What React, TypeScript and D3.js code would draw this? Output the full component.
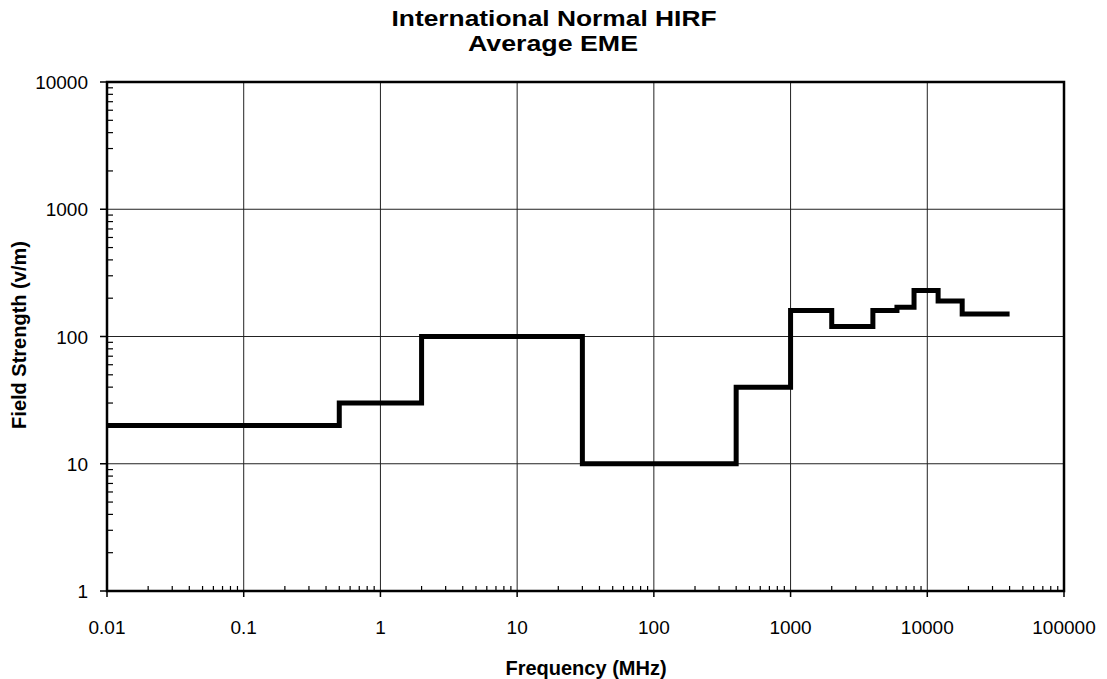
import React from "react";
import * as d3 from "d3";

const freqEdges = [0.01, 0.5, 2, 30, 400, 1000, 2000, 4000, 6000, 8000, 12000, 18000, 40000];
const fieldLevels = [20, 30, 100, 10, 40, 160, 120, 160, 170, 230, 190, 150];
const xTickValues = [0.01, 0.1, 1, 10, 100, 1000, 10000, 100000];
const xTickLabels = ["0.01", "0.1", "1", "10", "100", "1000", "10000", "100000"];
const yTickValues = [1, 10, 100, 1000, 10000];
const yTickLabels = ["1", "10", "100", "1000", "10000"];
const titleLines = ["International Normal HIRF", "Average EME"];
const xTitle = "Frequency (MHz)";
const yTitle = "Field Strength (v/m)";

const W = 1107;
const H = 679;
const M = { left: 107, right: 1064, top: 82, bottom: 591 };
const FONT = "'Liberation Sans', Arial, Helvetica, sans-serif";

export default function App() {
  const x = d3.scaleLog().domain([0.01, 100000]).range([M.left, M.right]);
  const y = d3.scaleLog().domain([1, 10000]).range([M.bottom, M.top]);

  const pts: [number, number][] = [];
  fieldLevels.forEach((v, i) => {
    pts.push([freqEdges[i], v]);
    pts.push([freqEdges[i + 1], v]);
  });
  const line = d3
    .line<[number, number]>()
    .x((d) => x(d[0]))
    .y((d) => y(d[1]));

  const xMinor: number[] = [];
  for (let e = -2; e < 5; e++) for (let k = 2; k <= 9; k++) xMinor.push(k * Math.pow(10, e));
  const yMinor: number[] = [];
  for (let e = 0; e < 4; e++) for (let k = 2; k <= 9; k++) yMinor.push(k * Math.pow(10, e));

  return (
    <svg width={W} height={H} style={{ position: "absolute", left: 0, top: 0, background: "#fff" }}>
      <rect x={0} y={0} width={W} height={H} fill="#fff" />
      {/* title */}
      <g fontFamily={FONT} fontWeight="bold" fontSize={22} textAnchor="middle" fill="#000">
        <text x={554} y={26} textLength={325} lengthAdjust="spacingAndGlyphs">{titleLines[0]}</text>
        <text x={553} y={51} textLength={170} lengthAdjust="spacingAndGlyphs">{titleLines[1]}</text>
      </g>
      {/* grid */}
      <g stroke="#222" strokeWidth={1}>
        {xTickValues.map((v) => (
          <line key={"gx" + v} x1={x(v)} x2={x(v)} y1={M.top} y2={M.bottom} />
        ))}
        {yTickValues.map((v) => (
          <line key={"gy" + v} x1={M.left} x2={M.right} y1={y(v)} y2={y(v)} />
        ))}
      </g>
      {/* minor ticks */}
      <g stroke="#000" strokeWidth={1.2}>
        {xMinor.map((v, i) => (
          <line key={"mx" + i} x1={x(v)} x2={x(v)} y1={M.bottom} y2={M.bottom - 5} />
        ))}
        {yMinor.map((v, i) => (
          <line key={"my" + i} x1={M.left} x2={M.left + 6} y1={y(v)} y2={y(v)} />
        ))}
      </g>
      {/* major ticks */}
      <g stroke="#000" strokeWidth={1.5}>
        {xTickValues.map((v) => (
          <line key={"tx" + v} x1={x(v)} x2={x(v)} y1={M.bottom} y2={M.bottom + 6} />
        ))}
        {yTickValues.map((v) => (
          <line key={"ty" + v} x1={M.left - 7} x2={M.left} y1={y(v)} y2={y(v)} />
        ))}
      </g>
      {/* frame */}
      <rect x={M.left} y={M.top} width={M.right - M.left} height={M.bottom - M.top} fill="none" stroke="#000" strokeWidth={2.5} />
      {/* data */}
      <path d={line(pts) || ""} fill="none" stroke="#000" strokeWidth={5} strokeLinejoin="miter" />
      {/* tick labels */}
      <g fontFamily={FONT} fontSize={19} fill="#000">
        {xTickValues.map((v, i) => (
          <text key={"lx" + v} x={x(v)} y={634} textAnchor="middle">{xTickLabels[i]}</text>
        ))}
        {yTickValues.map((v, i) => (
          <text key={"ly" + v} x={88} y={y(v) + 7} textAnchor="end">{yTickLabels[i]}</text>
        ))}
      </g>
      {/* axis titles */}
      <g fontFamily={FONT} fontWeight="bold" fontSize={20} fill="#000" textAnchor="middle">
        <text x={586} y={675}>{xTitle}</text>
        <text transform={`translate(26, ${335}) rotate(-90)`}>{yTitle}</text>
      </g>
    </svg>
  );
}
